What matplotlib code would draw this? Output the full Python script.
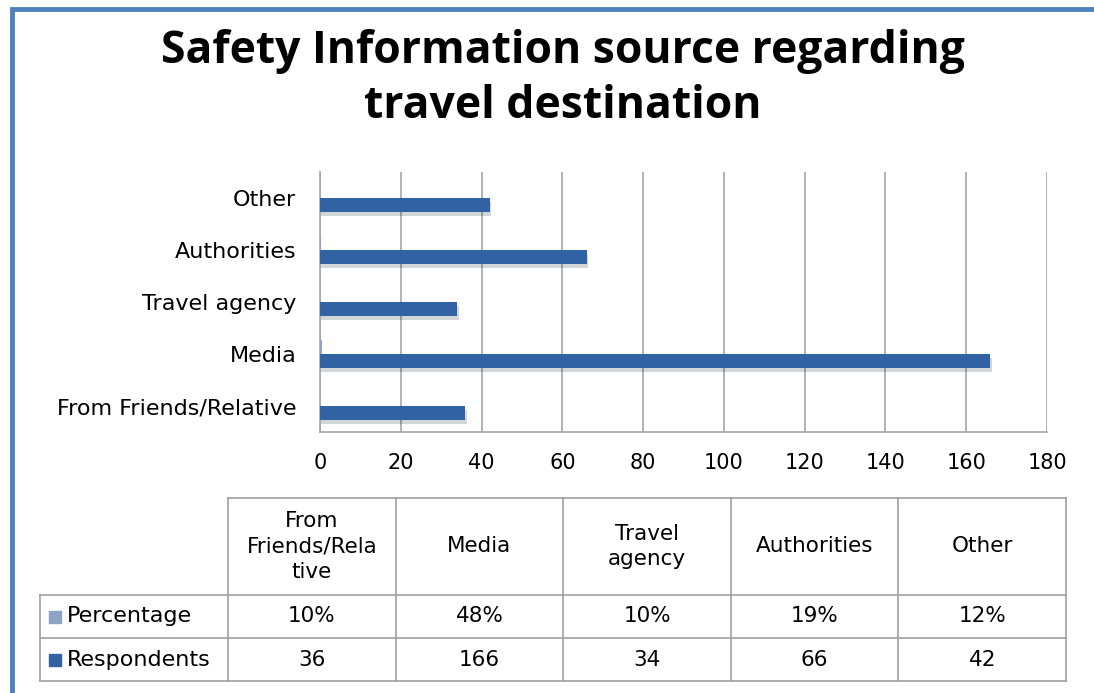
import numpy as np
import matplotlib.pyplot as plt
import matplotlib.patheffects as pe
from matplotlib.patches import Rectangle

# data
categories = ["From Friends/Relative", "Media", "Travel agency", "Authorities", "Other"]
table_headers = ["From\nFriends/Rela\ntive", "Media", "Travel\nagency", "Authorities", "Other"]
percentage = [10, 48, 10, 19, 12]
respondents = [36, 166, 34, 66, 42]
series_names = ["Percentage", "Respondents"]
xticks = [0, 20, 40, 60, 80, 100, 120, 140, 160, 180]

dark_blue = "#3162A3"
light_blue = "#8FA3C7"
grid_gray = "#A6A6A6"

plt.rcParams['font.family'] = ['DejaVu Sans']

W, H = 1094, 693
fig = plt.figure(figsize=(W / 100, H / 100), dpi=100)
fig.patch.set_facecolor("white")

# blue frame (top and left edges only visible)
fig.add_artist(Rectangle((12 / W, -0.2), 1.2, 1.2 - 9 / H, transform=fig.transFigure,
                         fill=False, edgecolor="#4F81BD", linewidth=3.5))

fig.text(563 / W, 1 - 79 / H, "Safety Information source regarding\ntravel destination",
         ha="center", va="center", fontsize=32, fontweight="bold", linespacing=1.3,
         family=["Open Sans", "DejaVu Sans"])

# bar chart
ax = fig.add_axes([320 / W, 1 - 432 / H, 727 / W, 260 / H])
y = np.arange(len(categories))
h = 0.27
bars = ax.barh(y - h / 2, respondents, height=h, color=dark_blue, zorder=3)
ax.barh(y + h / 2, np.array(percentage) / 100, height=h, color=light_blue, zorder=3)
for b in bars:
    b.set_path_effects([pe.SimplePatchShadow(offset=(1, -3), alpha=0.18), pe.Normal()])

ax.set_xlim(0, 180)
ax.set_ylim(-0.5, len(categories) - 0.5)
ax.set_xticks(xticks)
ax.set_yticks(y)
ax.set_yticklabels(categories)
ax.tick_params(axis="x", length=0, pad=15, labelsize=15)
ax.tick_params(axis="y", length=0, pad=17, labelsize=16)
ax.xaxis.grid(True, color=grid_gray, linewidth=1.2, zorder=0)
for s in ["top", "right"]:
    ax.spines[s].set_visible(False)
for s in ["left", "bottom"]:
    ax.spines[s].set_color(grid_gray)
    ax.spines[s].set_linewidth(1.2)

# data table
tab = fig.add_axes([0, 0, 1, 1], zorder=-1)
tab.set_xlim(0, W)
tab.set_ylim(H, 0)
tab.axis("off")

col_x = np.linspace(228, 1066, len(categories) + 1)
row_y = [498, 595, 638, 681]
lab_left = 40
lc = "#A0A0A0"
for xv in col_x:
    tab.plot([xv, xv], [row_y[0], row_y[-1]], color=lc, lw=1.2)
tab.plot([lab_left, lab_left], [row_y[1], row_y[-1]], color=lc, lw=1.2)
tab.plot([col_x[0], col_x[-1]], [row_y[0], row_y[0]], color=lc, lw=1.2)
for yv in row_y[1:]:
    tab.plot([lab_left, col_x[-1]], [yv, yv], color=lc, lw=1.2)

for i, lab in enumerate(table_headers):
    cx = (col_x[i] + col_x[i + 1]) / 2
    tab.text(cx, (row_y[0] + row_y[1]) / 2, lab, ha="center", va="center",
             fontsize=15.5, linespacing=1.35)
    tab.text(cx, (row_y[1] + row_y[2]) / 2, f"{percentage[i]}%", ha="center",
             va="center", fontsize=15.5)
    tab.text(cx, (row_y[2] + row_y[3]) / 2, str(respondents[i]), ha="center",
             va="center", fontsize=15.5)

for r, (name, col) in enumerate(zip(series_names, [light_blue, dark_blue])):
    cy = (row_y[r + 1] + row_y[r + 2]) / 2
    tab.add_patch(Rectangle((49, cy - 6), 12, 12, color=col))
    tab.text(67, cy, name, ha="left", va="center", fontsize=16)

fig.savefig("out.png", dpi=100)
